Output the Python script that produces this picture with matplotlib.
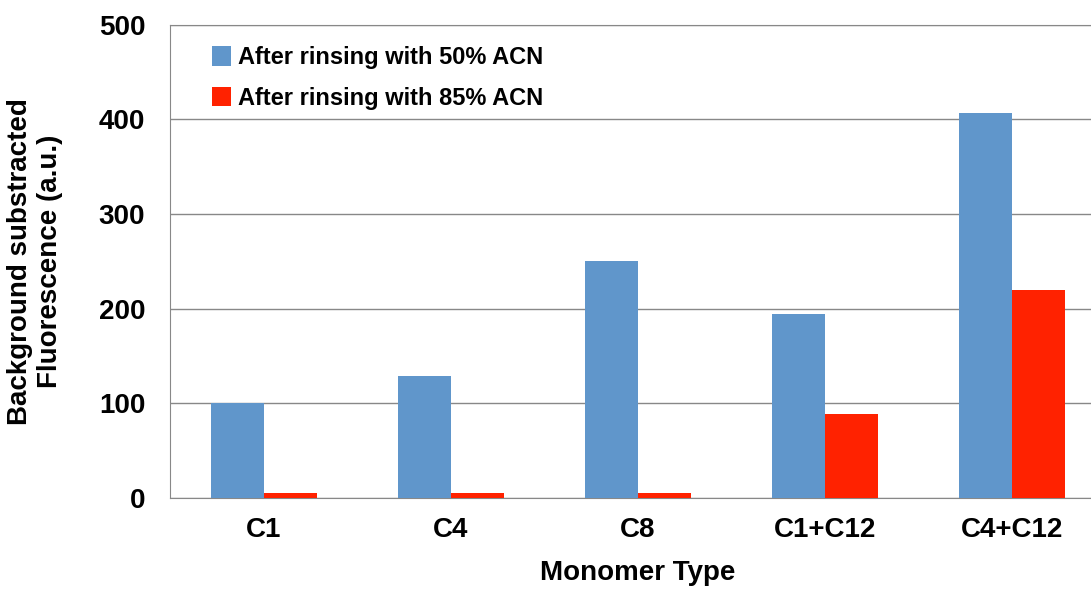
import matplotlib.pyplot as plt
import numpy as np

plt.rcParams['font.family'] = ['Liberation Sans', 'DejaVu Sans']
plt.rcParams['font.weight'] = 'bold'

categories = ["C1", "C4", "C8", "C1+C12", "C4+C12"]
rinse_50 = [100, 129, 250, 194, 407]
rinse_85 = [5, 5, 5, 89, 220]

fig = plt.figure(figsize=(10.91, 5.92), dpi=100)
ax = fig.add_axes([0.156, 0.159, 0.857, 0.799])

x = np.arange(len(categories))
w = 0.283
ax.bar(x - w / 2, rinse_50, w, color="#6096CB", label="After rinsing with 50% ACN", zorder=3)
ax.bar(x + w / 2, rinse_85, w, color="#FF2200", label="After rinsing with 85% ACN", zorder=3)

ax.set_xlim(-0.5, len(categories) - 0.5)
ax.set_ylim(0, 500)
ax.set_yticks(range(0, 501, 100))
ax.yaxis.grid(True, color="#888888", linewidth=1, zorder=0)
ax.spines["top"].set_color("#888888")
ax.spines["right"].set_visible(False)
ax.spines["left"].set_color("#888888")
ax.spines["bottom"].set_color("#888888")
ax.tick_params(axis="x", length=0, pad=14, labelsize=20)
ax.tick_params(axis="y", length=0, pad=18, labelsize=20)
ax.set_xticks(x)
ax.set_xticklabels(categories)
ax.set_xlabel("Monomer Type", fontsize=20, fontweight="bold", labelpad=12)
ax.set_ylabel("Background substracted\nFluorescence (a.u.)", fontsize=20, fontweight="bold", labelpad=26)

ax.legend(loc="upper left", bbox_to_anchor=(0.022, 1.0), frameon=False, fontsize=17,
          handlelength=0.8, handleheight=0.9, handletextpad=0.3, labelspacing=0.75)

fig.savefig("out.png", dpi=100)
